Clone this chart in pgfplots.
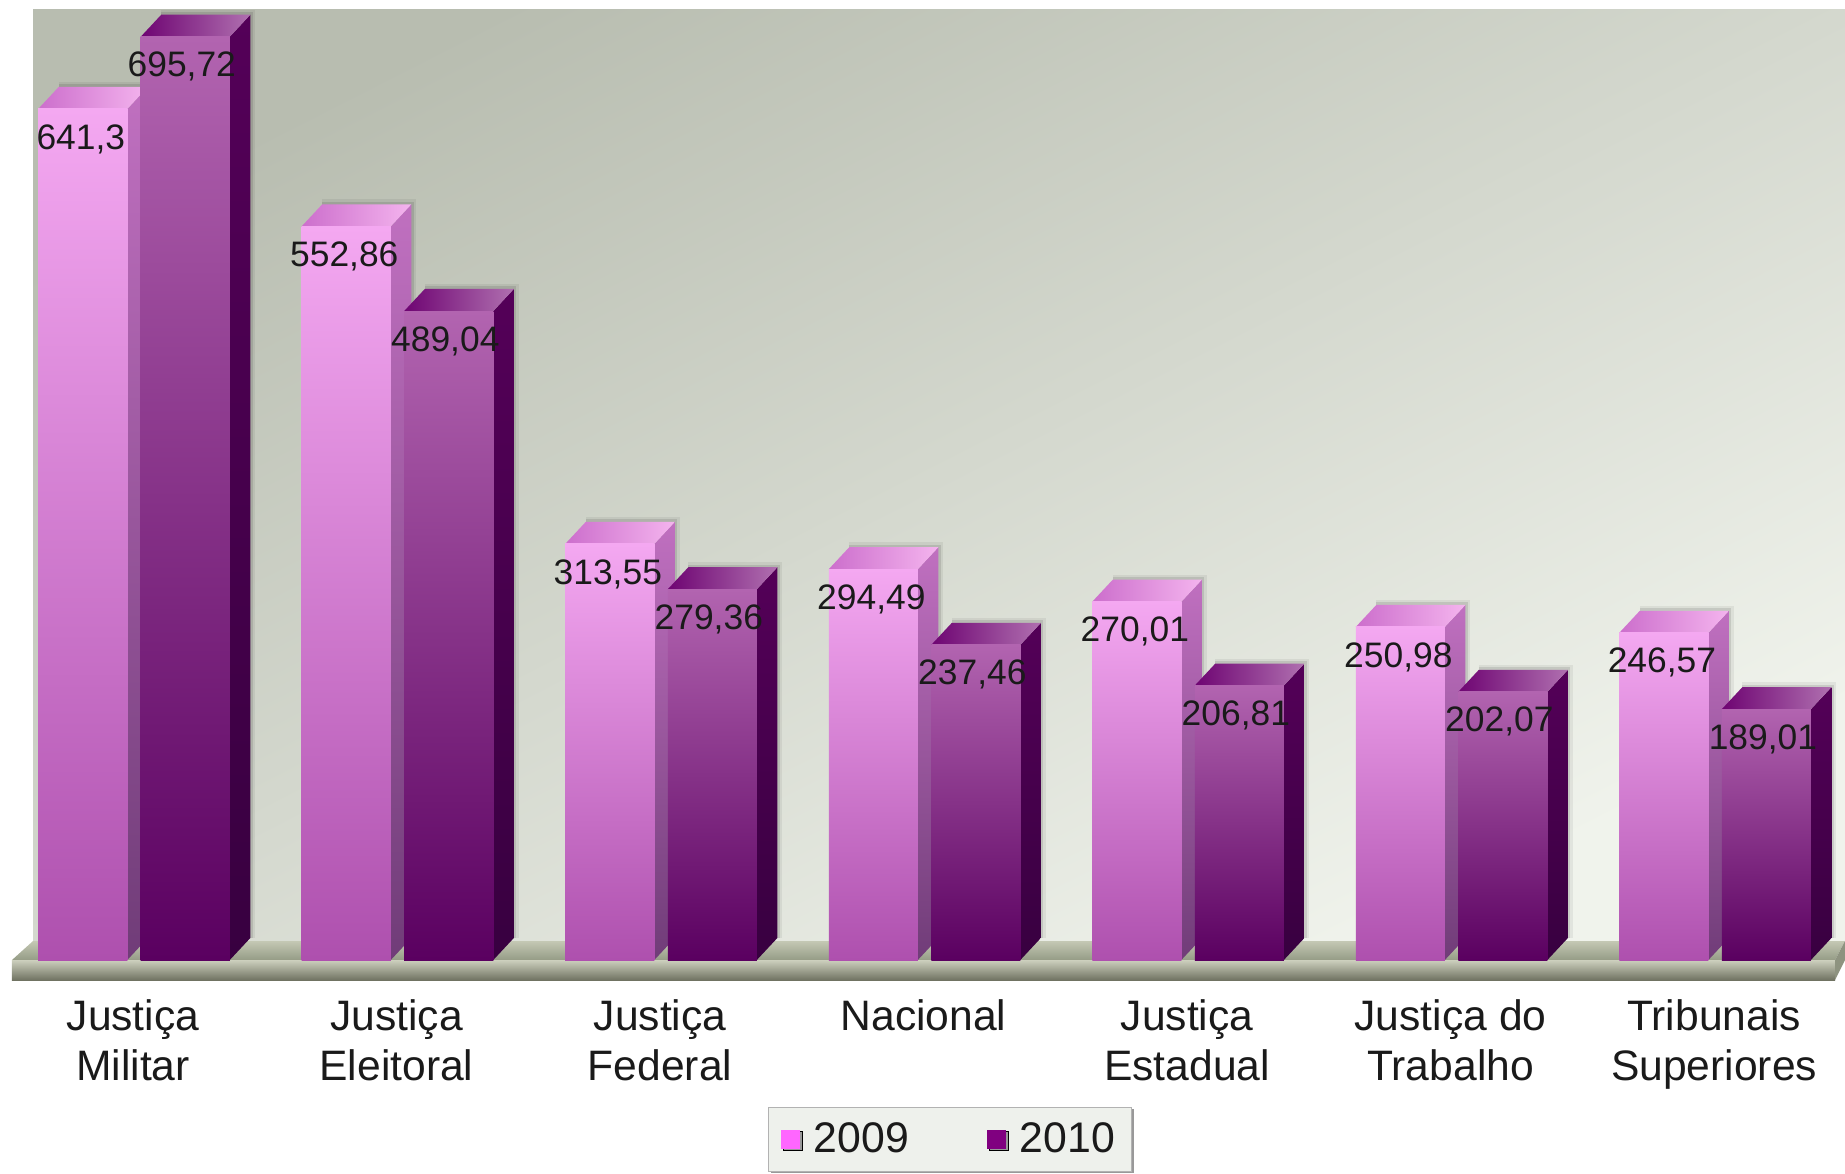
\documentclass[border=0pt]{standalone}
\usepackage{fontspec}
\setmainfont{Liberation Sans}
\usepackage{pgfplots}
\pgfplotsset{compat=1.18}
\usetikzlibrary{shadows}
\definecolor{aTop}{HTML}{F4A8F1}
\definecolor{aBot}{HTML}{AE50AE}
\definecolor{aSideT}{HTML}{C070C0}
\definecolor{aSideB}{HTML}{703C78}
\definecolor{aCapL}{HTML}{CC6ECC}
\definecolor{aCapR}{HTML}{F4B4EE}
\definecolor{bTop}{HTML}{B264B0}
\definecolor{bBot}{HTML}{5A0060}
\definecolor{bSideT}{HTML}{540058}
\definecolor{bSideB}{HTML}{380040}
\definecolor{bCapL}{HTML}{6E0472}
\definecolor{bCapR}{HTML}{B070B0}
\definecolor{leg09}{HTML}{FF66FF}
\definecolor{leg10}{HTML}{800080}
\definecolor{txt}{HTML}{1A1A1A}
\definecolor{wallA}{HTML}{B8BDB0}
\definecolor{wallB}{HTML}{D2D7CC}
\definecolor{wallC}{HTML}{F0F3EC}
\definecolor{floorT}{HTML}{C4C8B4}
\definecolor{floorB}{HTML}{959C86}
\definecolor{frontT}{HTML}{CDD0BE}
\definecolor{frontM}{HTML}{B4B8A4}
\definecolor{frontB}{HTML}{707362}
\definecolor{floorS}{HTML}{8E9380}
\definecolor{legbg}{HTML}{EEF1EC}
% one bar: #1 category, #2 bar shift, #3 value, #4 side style, #5 cap style, #6 front style, #7 label xshift
\newcommand{\onebar}[7]{%
  \pgfmathsetmacro{\xl}{#1+#2-0.169}%
  \pgfmathsetmacro{\xr}{#1+#2+0.169}%
  \pgfmathsetmacro{\xld}{#1+#2-0.169+0.078}%
  \pgfmathsetmacro{\xrd}{#1+#2+0.169+0.078}%
  \pgfmathsetmacro{\vd}{#3+16.6}%
  \addplot[forget plot,draw=black,draw opacity=0.06,line width=5pt,mark=none] coordinates {(\xld,\vd) (\xrd,\vd) (\xrd,16.6)};
  \addplot[forget plot,draw=black,draw opacity=0.10,line width=2.5pt,mark=none] coordinates {(\xld,\vd) (\xrd,\vd) (\xrd,16.6)};
  \addplot[forget plot,draw=none,mark=none,#4] coordinates {(\xr,0) (\xrd,16.6) (\xrd,\vd) (\xr,#3)} --cycle;
  \addplot[forget plot,draw=none,mark=none,#5] coordinates {(\xl,#3) (\xld,\vd) (\xrd,\vd) (\xr,#3)} --cycle;
  \addplot[forget plot,ybar,bar width=0.338,bar shift=#2,draw=none,#6,
    nodes near coords={\pgfmathprintnumber[use comma,precision=2,1000 sep={},assume math mode=true]{\pgfplotspointmeta}},
    every node near coord/.append style={anchor=center,yshift=-15pt,xshift=#7,text=txt,inner sep=0pt,
      font=\fontsize{17.7}{20}\selectfont}]
    coordinates {(#1,#3)};
}
\pgfplotsset{
  sideA/.style={top color=aSideT,bottom color=aSideB},
  capA/.style={left color=aCapL,right color=aCapR},
  frontA/.style={top color=aTop,bottom color=aBot},
  sideB/.style={top color=bSideT,bottom color=bSideB},
  capB/.style={left color=bCapL,right color=bCapR},
  frontB/.style={top color=bTop,bottom color=bBot},
}
\newcommand{\barA}[2]{\onebar{#1}{-0.1945}{#2}{sideA}{capA}{frontA}{-26.6pt}}
\newcommand{\barB}[2]{\onebar{#1}{0.1945}{#2}{sideB}{capB}{frontB}{23.9pt}}
\begin{document}
\begin{tikzpicture}
\path[use as bounding box] (0,-96.5pt) rectangle (922.5pt,490pt);
\begin{axis}[
  at={(0,0)}, anchor=south west,
  scale only axis, width=922.5pt, height=490pt,
  xmin=-0.5085, xmax=6.493, ymin=-15.07, ymax=723.4,
  clip=false,
  axis line style={draw=none},
  major tick length=0pt,
  ytick=\empty,
  xtick={0,1,2,3,4,5,6},
  xticklabels={{Justiça\\Militar},{Justiça\\Eleitoral},{Justiça\\Federal},{Nacional},{Justiça\\Estadual},{Justiça do\\Trabalho},{Tribunais\\Superiores}},
  xticklabel style={align=center,anchor=north,inner sep=0pt,yshift=-9.5pt,xshift=-0.5pt,text=txt,
    font=\fontsize{21.3}{25}\selectfont},
  legend style={at={(0.5149,-0.1296)},anchor=north,legend columns=2,
    draw=gray!60,fill=legbg,
    font=\fontsize{21.4}{25}\selectfont,text=txt,
    inner xsep=6pt,inner ysep=5.7pt,
    general shadow={shadow xshift=1.2pt,shadow yshift=-0.8pt,fill=gray!80},
    /tikz/every even column/.append style={column sep=37pt}},
]
% wall and floor
\shade[top color=wallA,middle color=wallB,bottom color=wallC,shading angle=27]
  (axis description cs:0.0179,0.0398) rectangle (axis description cs:1,0.9898);
\shade[top color=floorT,bottom color=floorB]
  (axis description cs:0.0065,0.0204) -- (axis description cs:0.0179,0.0398) -- (axis description cs:1,0.0398) -- (axis description cs:0.9946,0.0204) -- cycle;
\shade[top color=frontT,middle color=frontM,bottom color=frontB]
  (axis description cs:0.0065,0) rectangle (axis description cs:0.9946,0.0204);
\fill[floorS] (axis description cs:0.9946,0) -- (axis description cs:1,0.0204) -- (axis description cs:1,0.0398) -- (axis description cs:0.9946,0.0204) -- cycle;
% legend
\addlegendimage{legend image code/.code={\fill[leg09,draw=none] (0pt,-4.75pt) rectangle (9.5pt,4.75pt);}}
\addlegendentry{\hspace{5pt}2009}
\addlegendimage{legend image code/.code={\fill[leg10,draw=none] (0pt,-4.75pt) rectangle (9.5pt,4.75pt);}}
\addlegendentry{\hspace{5pt}2010}
% bars, category by category: 2009 then 2010
\barA{0}{641.3}  \barB{0}{695.72}
\barA{1}{552.86} \barB{1}{489.04}
\barA{2}{313.55} \barB{2}{279.36}
\barA{3}{294.49} \barB{3}{237.46}
\barA{4}{270.01} \barB{4}{206.81}
\barA{5}{250.98} \barB{5}{202.07}
\barA{6}{246.57} \barB{6}{189.01}
\end{axis}
\end{tikzpicture}
\end{document}
